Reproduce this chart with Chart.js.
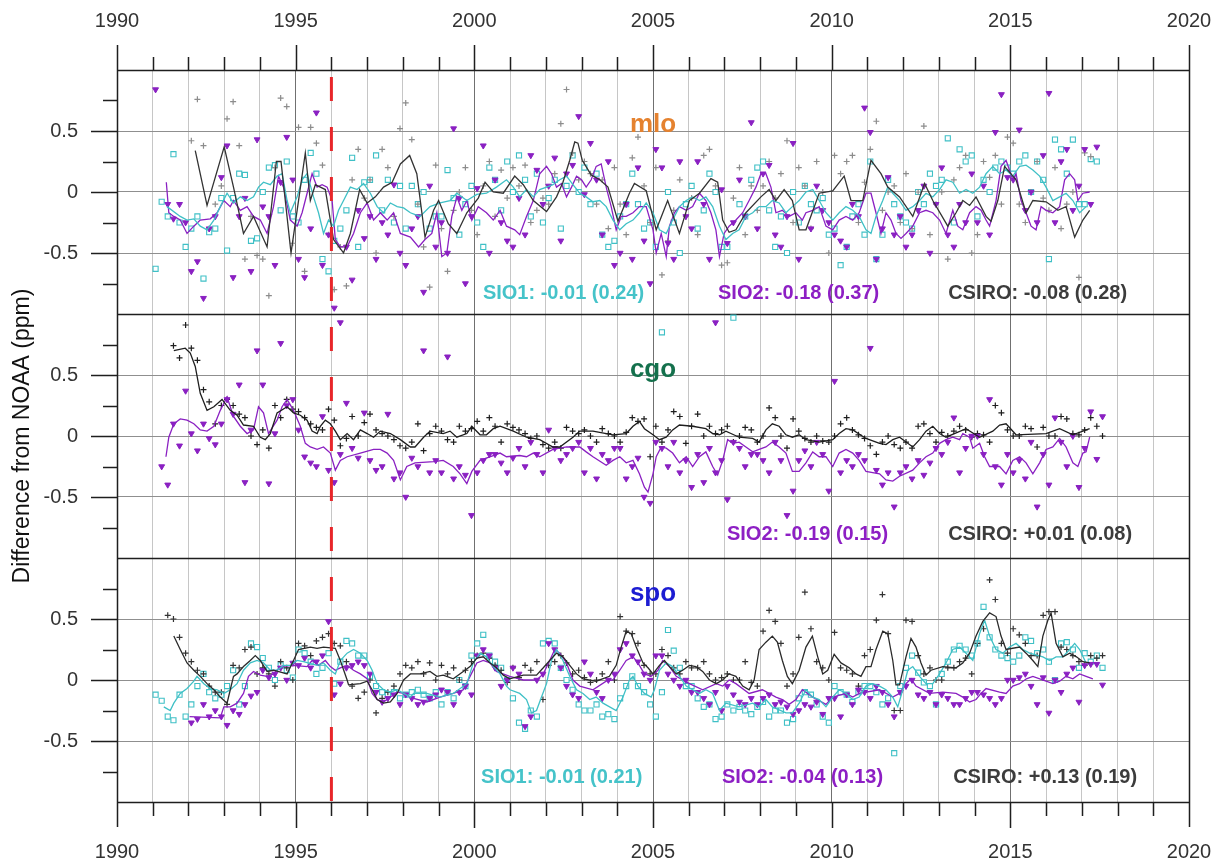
<!DOCTYPE html>
<html>
<head>
<meta charset="utf-8">
<script src="https://cdn.jsdelivr.net/npm/chart.js@4.4.1/dist/chart.umd.min.js"></script>
<style>
  html, body { margin: 0; padding: 0; background: #fff; }
  #wrap { width: 1226px; height: 868px; }
</style>
</head>
<body>
<div id="wrap"><canvas id="myChart" width="1226" height="868"></canvas></div>
<script>
var FONT = "'Liberation Sans', Arial, Helvetica, sans-serif";

// x positions of the (roughly bi-monthly) scatter samples
var scatterYears = [
  1991.08,1991.25,1991.42,1991.58,1991.75,1991.92,
  1992.08,1992.25,1992.42,1992.58,1992.75,1992.92,
  1993.08,1993.25,1993.42,1993.58,1993.75,1993.92,
  1994.08,1994.25,1994.42,1994.58,1994.75,1994.92,
  1995.08,1995.25,1995.42,1995.58,1995.75,1995.92,
  1996.08,1996.25,1996.42,1996.58,1996.75,1996.92,
  1997.08,1997.25,1997.42,1997.58,1997.75,1997.92,
  1998.08,1998.25,1998.42,1998.58,1998.75,1998.92,
  1999.08,1999.25,1999.42,1999.58,1999.75,1999.92,
  2000.08,2000.25,2000.42,2000.58,2000.75,2000.92,
  2001.08,2001.25,2001.42,2001.58,2001.75,2001.92,
  2002.08,2002.25,2002.42,2002.58,2002.75,2002.92,
  2003.08,2003.25,2003.42,2003.58,2003.75,2003.92,
  2004.08,2004.25,2004.42,2004.58,2004.75,2004.92,
  2005.08,2005.25,2005.42,2005.58,2005.75,2005.92,
  2006.08,2006.25,2006.42,2006.58,2006.75,2006.92,
  2007.08,2007.25,2007.42,2007.58,2007.75,2007.92,
  2008.08,2008.25,2008.42,2008.58,2008.75,2008.92,
  2009.08,2009.25,2009.42,2009.58,2009.75,2009.92,
  2010.08,2010.25,2010.42,2010.58,2010.75,2010.92,
  2011.08,2011.25,2011.42,2011.58,2011.75,2011.92,
  2012.08,2012.25,2012.42,2012.58,2012.75,2012.92,
  2013.08,2013.25,2013.42,2013.58,2013.75,2013.92,
  2014.08,2014.25,2014.42,2014.58,2014.75,2014.92,
  2015.08,2015.25,2015.42,2015.58,2015.75,2015.92,
  2016.08,2016.25,2016.42,2016.58,2016.75,2016.92,
  2017.08,2017.25,2017.42,2017.58,2017.75,2017.92
];

// ---- mlo ----
var mloSio1 = [
  -0.63,-0.08,-0.2,0.31,-0.25,-0.45,
  -0.3,-0.2,-0.71,-0.33,-0.3,-0.05,
  -0.48,-0.05,0.15,0.14,-0.4,-0.38,
  0.0,0.2,0.22,-0.15,0.25,-0.2,
  -0.25,0.1,0.32,0.15,-0.55,-0.65,
  -0.4,-0.3,-0.15,0.28,-0.45,0.08,
  0.1,0.3,-0.15,0.1,-0.25,0.05,
  -0.3,0.05,-0.1,0.0,-0.3,-0.2,
  -0.2,0.18,-0.05,-0.35,-0.1,0.05,
  -0.25,-0.45,0.2,0.1,-0.15,0.25,
  0.0,0.3,0.1,-0.2,0.15,-0.25,
  -0.05,0.1,-0.3,0.05,0.3,0.0,
  0.2,-0.1,0.15,-0.35,-0.45,-0.4,
  -0.2,-0.1,0.15,-0.1,-0.3,-0.25,
  -0.45,-1.15,0.0,-0.25,-0.5,-0.1,
  0.05,-0.3,-0.15,0.15,0.0,-0.45,
  -0.45,-1.03,-0.1,-0.2,0.1,0.2,
  0.25,-0.15,-0.45,-0.2,-0.5,0.0,
  -0.25,0.05,-0.1,-0.15,-0.05,-0.35,
  -0.3,-0.6,-0.45,-0.2,-0.1,-0.35,
  0.25,-0.55,-0.35,0.1,-0.1,-0.2,
  -0.25,-0.3,0.0,-0.1,0.15,0.05,
  0.1,0.44,-0.25,0.35,0.25,0.3,
  -0.2,0.1,0.0,0.2,0.25,0.2,
  0.15,0.25,0.3,0.0,0.25,0.1,
  -0.55,0.43,0.35,0.15,0.43,-0.1,
  -0.1,0.27,0.25,null,null,null
];
var mloSio2 = [
  0.84,null,-0.1,-0.22,-0.1,-0.25,
  -0.65,-0.57,-0.87,-0.3,-0.2,0.12,
  0.38,-0.7,-0.2,-0.05,-0.65,0.43,
  -0.12,-0.2,-0.6,0.08,0.45,0.1,
  -0.55,-0.7,-0.3,0.65,-0.6,-0.35,
  -0.95,-1.07,-0.45,-0.72,-0.15,-0.38,
  -0.2,-0.55,-0.25,-0.35,0.06,-0.5,
  -0.6,-0.3,-0.2,-0.82,0.05,-0.45,
  -0.25,-0.5,0.52,-0.05,-0.75,-0.2,
  0.03,0.38,-0.5,0.1,-0.25,-0.4,
  -0.45,-0.05,-0.35,0.3,0.18,-0.1,
  0.05,0.28,-0.4,0.15,0.22,0.62,
  -0.02,0.4,0.1,-0.35,0.25,-0.6,
  -0.5,-0.1,-0.55,0.2,-0.4,-0.75,
  0.35,0.2,-0.42,-0.55,0.25,-0.2,
  -0.3,0.25,-0.1,-0.55,-1.07,0.02,
  -0.42,-0.25,0.1,-0.2,0.57,-0.3,
  0.15,0.22,-0.35,-0.45,-0.2,0.4,
  -0.55,1.41,-0.3,0.05,-0.15,-0.25,
  -0.35,-0.4,-0.45,-0.1,-0.2,0.69,
  0.49,-0.55,-0.3,0.12,-0.35,-0.2,
  -0.45,-0.35,-0.15,0.05,-0.5,-0.1,
  0.2,-0.35,-0.45,-0.1,-0.25,0.15,
  -0.25,0.05,-0.35,0.49,0.8,0.12,
  0.1,0.51,-0.15,0.0,-0.25,0.3,
  0.81,-0.25,0.25,0.35,-0.15,0.05,
  0.35,-0.1,0.37,null,null,null
];
var mloCsiro = [
  null,null,null,null,null,null,
  0.42,0.76,0.38,-0.3,-0.1,0.05,
  0.6,0.74,0.38,-0.55,-0.2,-0.52,
  -0.55,-0.85,0.2,0.77,0.7,-0.42,
  0.53,-0.65,0.53,0.4,0.22,-0.35,
  -0.8,-0.45,-0.77,0.1,0.35,-0.05,
  0.1,-0.5,0.35,0.2,-0.2,0.52,
  0.73,0.43,-0.1,-0.45,-0.78,0.22,
  -0.3,-0.65,-0.15,0.0,0.2,-0.15,
  -0.35,0.05,0.25,-0.2,0.18,-0.05,
  0.2,0.05,0.22,-0.25,-0.15,-0.05,
  -0.1,0.15,0.56,0.84,0.32,0.1,
  0.25,0.15,-0.1,0.1,-0.3,0.2,
  -0.1,-0.35,0.28,0.45,0.05,-0.25,
  0.2,-0.68,-0.4,-0.15,0.1,-0.2,
  -0.05,-0.35,0.3,0.35,0.05,-0.6,
  -0.58,-0.05,0.2,-0.35,0.05,-0.15,
  0.05,0.25,-0.05,0.15,0.42,-0.25,
  0.2,0.05,-0.3,0.25,0.0,-0.5,
  0.3,0.15,0.25,0.3,-0.25,0.08,
  0.35,0.58,-0.15,0.0,0.05,-0.25,
  0.15,-0.3,0.0,0.54,-0.35,-0.1,
  0.0,-0.55,0.1,0.2,0.3,-0.5,
  -0.35,0.25,0.12,0.3,-0.1,0.45,
  0.4,-0.1,-0.25,0.0,0.25,-0.05,
  -0.15,0.2,-0.3,-0.1,0.0,-0.7,
  0.32,0.29,null,null,null,null
];
var mloSio1Line = [[1991.4,-0.12],[1991.77,-0.2],[1991.96,-0.23],[1992.15,-0.22],[1992.33,-0.28],[1992.52,-0.31],[1992.71,-0.23],[1992.89,-0.12],[1993.08,-0.01],[1993.26,-0.09],[1993.45,-0.04],[1993.64,-0.07],[1993.82,-0.04],[1993.96,0.04],[1994.1,0.08],[1994.29,0.06],[1994.48,0.13],[1994.62,0.15],[1994.76,-0.07],[1994.85,-0.17],[1995.04,-0.04],[1995.18,0.1],[1995.32,0.15],[1995.5,-0.04],[1995.64,-0.17],[1995.78,-0.34],[1995.92,-0.23],[1996.06,-0.28],[1996.2,-0.15],[1996.34,-0.07],[1996.53,0.04],[1996.72,0.02],[1996.9,0.07],[1997.09,-0.01],[1997.28,-0.12],[1997.46,-0.17],[1997.65,-0.09],[1997.84,-0.12],[1998.02,-0.13],[1998.21,-0.17],[1998.48,-0.2],[1998.76,-0.12],[1999.04,-0.09],[1999.32,-0.07],[1999.51,-0.01],[1999.79,-0.07],[2000.07,-0.02],[2000.34,-0.01],[2000.62,0.04],[2000.9,0.1],[2001.09,0.04],[2001.27,-0.04],[2001.46,0.02],[2001.65,-0.04],[2001.83,0.02],[2002.02,0.04],[2002.2,0.06],[2002.39,0.1],[2002.58,0.13],[2002.76,0.06],[2002.95,-0.01],[2003.13,-0.04],[2003.32,-0.08],[2003.51,-0.07],[2003.69,-0.12],[2003.88,-0.23],[2004.07,-0.31],[2004.25,-0.26],[2004.44,-0.23],[2004.62,-0.17],[2004.81,-0.09],[2005.0,-0.17],[2005.18,-0.31],[2005.37,-0.34],[2005.55,-0.23],[2005.74,-0.12],[2005.93,-0.07],[2006.11,-0.04],[2006.3,-0.07],[2006.48,-0.04],[2006.67,-0.12],[2006.86,-0.28],[2007.04,-0.39],[2007.23,-0.34],[2007.41,-0.31],[2007.6,-0.2],[2007.79,-0.17],[2007.97,-0.12],[2008.16,-0.12],[2008.34,-0.07],[2008.53,-0.09],[2008.72,-0.17],[2008.9,-0.12],[2009.09,-0.07],[2009.28,0.0],[2009.47,0.02],[2009.65,-0.07],[2009.84,-0.17],[2010.03,-0.23],[2010.21,-0.17],[2010.4,-0.12],[2010.59,-0.15],[2010.77,-0.2],[2010.96,-0.31],[2011.1,-0.34],[2011.24,-0.2],[2011.43,-0.07],[2011.57,0.04],[2011.71,-0.01],[2011.9,-0.07],[2012.08,-0.15],[2012.27,-0.12],[2012.46,-0.07],[2012.64,-0.01],[2012.83,-0.04],[2013.02,0.02],[2013.2,0.1],[2013.39,0.08],[2013.58,-0.01],[2013.76,0.02],[2013.95,-0.01],[2014.14,0.04],[2014.32,0.15],[2014.51,0.21],[2014.7,0.15],[2014.88,0.18],[2015.07,0.13],[2015.26,0.21],[2015.44,0.22],[2015.63,0.18],[2015.82,0.13],[2016.0,0.04],[2016.19,-0.07],[2016.38,-0.04],[2016.56,-0.01],[2016.75,-0.07],[2016.94,-0.17],[2017.12,-0.12]];
var mloSio2Line = [[1991.38,0.08],[1991.45,-0.17],[1991.59,-0.2],[1991.77,-0.23],[1991.96,-0.34],[1992.15,-0.28],[1992.33,-0.23],[1992.61,-0.22],[1992.8,-0.17],[1992.99,-0.07],[1993.17,-0.12],[1993.26,-0.07],[1993.45,-0.15],[1993.64,-0.12],[1993.82,-0.2],[1994.01,-0.23],[1994.2,-0.34],[1994.38,-0.12],[1994.52,0.13],[1994.66,0.04],[1994.85,-0.23],[1995.04,-0.28],[1995.18,-0.17],[1995.32,-0.01],[1995.46,0.15],[1995.6,0.04],[1995.74,0.06],[1995.88,0.04],[1996.02,-0.07],[1996.11,-0.39],[1996.25,-0.45],[1996.44,-0.45],[1996.62,-0.34],[1996.81,-0.17],[1997.0,-0.09],[1997.18,-0.23],[1997.37,-0.17],[1997.56,-0.23],[1997.74,-0.17],[1997.93,-0.34],[1998.21,-0.37],[1998.44,-0.45],[1998.62,-0.39],[1998.81,-0.34],[1998.95,-0.17],[1999.09,-0.53],[1999.23,-0.5],[1999.37,-0.2],[1999.51,-0.04],[1999.65,-0.15],[1999.79,-0.07],[1999.93,-0.23],[2000.11,-0.12],[2000.34,-0.17],[2000.53,-0.23],[2000.72,-0.15],[2000.9,-0.28],[2001.13,-0.31],[2001.27,-0.35],[2001.46,-0.2],[2001.65,-0.07],[2001.83,0.15],[2002.02,0.21],[2002.16,0.15],[2002.3,0.04],[2002.44,0.07],[2002.58,-0.04],[2002.72,0.04],[2002.86,0.13],[2003.0,0.1],[2003.13,0.04],[2003.27,0.1],[2003.41,0.21],[2003.55,0.23],[2003.69,0.04],[2003.83,-0.12],[2003.97,-0.31],[2004.11,-0.2],[2004.25,-0.2],[2004.44,-0.17],[2004.62,-0.12],[2004.81,-0.12],[2005.0,-0.31],[2005.09,-0.5],[2005.23,-0.34],[2005.37,-0.53],[2005.46,-0.28],[2005.6,-0.17],[2005.74,-0.12],[2005.93,-0.15],[2006.11,-0.12],[2006.3,-0.01],[2006.48,-0.07],[2006.62,-0.17],[2006.76,-0.31],[2006.86,-0.53],[2006.99,-0.34],[2007.13,-0.28],[2007.32,-0.23],[2007.51,-0.17],[2007.69,-0.07],[2007.88,0.04],[2008.02,0.15],[2008.16,0.15],[2008.3,0.04],[2008.44,-0.17],[2008.62,-0.15],[2008.81,-0.2],[2009.0,-0.17],[2009.18,-0.23],[2009.28,-0.17],[2009.47,-0.15],[2009.65,-0.12],[2009.84,-0.28],[2010.03,-0.31],[2010.21,-0.23],[2010.4,-0.2],[2010.59,-0.23],[2010.77,-0.17],[2010.96,-0.01],[2011.1,-0.01],[2011.24,-0.17],[2011.38,-0.34],[2011.52,-0.17],[2011.66,-0.23],[2011.8,-0.34],[2011.94,-0.38],[2012.08,-0.34],[2012.27,-0.28],[2012.46,-0.17],[2012.64,-0.15],[2012.83,-0.17],[2013.02,-0.23],[2013.2,-0.34],[2013.39,-0.15],[2013.53,-0.28],[2013.67,-0.31],[2013.86,-0.17],[2014.04,-0.12],[2014.18,-0.15],[2014.32,-0.23],[2014.42,-0.28],[2014.6,-0.07],[2014.74,0.21],[2014.88,0.26],[2015.07,0.1],[2015.16,0.15],[2015.3,-0.07],[2015.44,-0.17],[2015.58,-0.28],[2015.72,-0.31],[2015.86,-0.12],[2016.0,-0.15],[2016.19,-0.17],[2016.38,-0.12],[2016.52,0.1],[2016.66,0.15],[2016.8,0.1],[2016.89,-0.07],[2017.03,-0.01],[2017.22,0.0]];
var mloCsiroLine = [[1992.19,0.34],[1992.52,-0.11],[1993.0,0.37],[1993.26,0.04],[1993.54,-0.34],[1993.82,-0.2],[1994.2,-0.45],[1994.46,0.25],[1994.59,0.25],[1994.87,-0.5],[1995.08,-0.07],[1995.27,0.32],[1995.41,-0.07],[1995.55,0.06],[1995.83,0.02],[1996.06,-0.39],[1996.34,-0.5],[1996.53,-0.34],[1996.79,0.02],[1997.0,-0.09],[1997.23,-0.04],[1997.46,0.04],[1997.7,0.08],[1997.93,0.23],[1998.19,0.3],[1998.39,0.15],[1998.62,-0.37],[1998.86,-0.15],[1999.0,-0.07],[1999.27,-0.26],[1999.51,-0.34],[1999.79,-0.17],[2000.11,-0.05],[2000.3,0.08],[2000.53,0.0],[2000.81,-0.01],[2001.13,0.13],[2001.37,0.06],[2001.65,-0.07],[2002.02,-0.16],[2002.3,-0.04],[2002.48,0.08],[2002.67,0.26],[2002.81,0.41],[2002.9,0.4],[2003.02,0.26],[2003.27,0.14],[2003.51,0.1],[2003.74,0.04],[2004.02,-0.24],[2004.34,-0.01],[2004.48,0.07],[2004.81,0.01],[2005.09,-0.31],[2005.41,-0.07],[2005.74,-0.34],[2006.02,-0.07],[2006.3,-0.01],[2006.62,0.11],[2006.81,0.08],[2006.95,-0.23],[2007.13,-0.33],[2007.32,-0.31],[2007.6,-0.17],[2008.02,-0.04],[2008.25,0.02],[2008.44,-0.07],[2008.67,0.02],[2008.9,-0.07],[2009.09,-0.31],[2009.28,-0.31],[2009.65,-0.01],[2010.03,0.01],[2010.35,0.13],[2010.54,-0.07],[2010.87,-0.07],[2011.1,0.26],[2011.38,0.15],[2011.57,0.04],[2011.9,-0.04],[2012.27,-0.2],[2012.6,0.07],[2012.83,-0.07],[2013.25,-0.28],[2013.48,-0.17],[2013.67,-0.07],[2013.86,-0.11],[2014.04,-0.04],[2014.32,-0.2],[2014.46,-0.24],[2014.65,-0.07],[2014.84,0.21],[2015.16,0.1],[2015.44,-0.17],[2015.63,-0.07],[2016.0,-0.08],[2016.33,-0.15],[2016.56,-0.12],[2016.8,-0.37],[2017.03,-0.23],[2017.22,-0.15]];

// ---- cgo ----
var cgoSio2 = [
  null,-0.25,-0.4,0.1,-0.08,0.37,
  0.02,-0.12,0.1,-0.02,-0.07,0.1,
  0.3,0.18,0.42,-0.38,0.05,0.7,
  0.42,-0.39,0.02,0.76,0.25,0.3,
  0.05,-0.17,-0.22,-0.25,0.16,-0.28,
  -0.38,-0.15,0.27,-0.1,-0.18,0.19,
  -0.2,-0.28,-0.25,0.18,-0.35,-0.3,
  -0.5,-0.18,-0.25,0.7,-0.3,-0.2,
  -0.3,0.65,-0.35,-0.25,-0.32,-0.65,
  -0.3,-0.2,-0.15,-0.15,-0.22,-0.3,
  -0.18,-0.1,-0.25,-0.05,-0.15,-0.3,
  0.05,-0.1,-0.2,-0.15,-0.1,-0.05,
  -0.3,-0.1,-0.35,-0.15,-0.2,-0.1,
  -0.1,-0.35,-0.25,-0.18,-0.5,-0.55,
  -0.05,-0.1,-0.25,-0.05,-0.3,-0.2,
  -0.42,-0.15,-0.38,-0.1,-0.3,-0.2,
  -0.52,-0.05,-0.1,-0.25,-0.15,-0.15,
  -0.2,-0.3,-0.05,-0.2,-0.65,-0.45,
  -0.2,-0.12,-0.25,-0.05,-0.15,-0.45,
  0.45,-0.3,-0.2,-0.25,-0.15,-0.2,
  0.72,-0.28,-0.4,-0.3,-0.58,-0.3,
  -0.25,-0.35,-0.2,-0.32,-0.22,-0.1,
  -0.15,-0.05,0.15,-0.3,-0.1,0.0,
  0.0,-0.15,0.3,-0.25,-0.4,-0.15,
  -0.3,-0.2,-0.35,-0.05,-0.58,-0.15,
  -0.4,0.15,-0.05,-0.25,0.0,-0.42,
  -0.1,0.2,-0.19,0.16,null,null
];
var cgoCsiro = [
  null,null,null,0.74,0.64,0.91,
  0.72,0.62,0.38,0.28,0.1,0.25,
  0.3,0.25,0.18,0.15,0.0,-0.07,
  0.05,-0.1,0.25,0.15,0.3,0.22,
  0.2,0.15,0.1,0.07,0.05,0.22,
  0.13,-0.08,-0.02,0.16,0.0,0.11,
  0.18,0.05,0.02,0.0,-0.03,-0.08,
  -0.1,-0.05,0.1,-0.12,0.02,0.08,
  0.04,-0.03,-0.05,0.08,0.04,0.06,
  0.12,0.04,0.15,0.08,-0.05,0.1,
  0.07,0.05,0.02,-0.02,0.0,-0.07,
  -0.1,-0.05,-0.1,0.07,0.04,0.02,
  0.05,0.0,-0.05,0.06,0.02,0.0,
  -0.05,0.03,0.15,0.12,0.14,-0.17,
  0.08,-0.05,0.05,0.2,0.16,-0.06,
  0.08,0.18,0.0,0.08,0.02,0.05,
  0.08,-0.05,0.0,0.07,0.05,-0.05,
  0.0,0.23,0.15,0.0,-0.1,0.14,
  0.04,-0.02,-0.05,0.0,-0.04,-0.05,
  0.0,0.1,0.15,0.05,0.01,-0.02,
  -0.08,-0.15,-0.05,0.0,-0.07,-0.1,
  -0.05,-0.1,0.08,0.1,0.02,-0.05,
  0.03,0.0,0.04,0.08,0.05,-0.01,
  0.02,0.01,-0.05,0.25,0.19,0.05,
  0.0,0.0,0.08,0.06,-0.09,0.07,
  0.0,0.0,0.16,0.14,0.02,0.01,
  0.05,0.15,0.08,0.0,null,null
];
var cgoSio2Line = [[1991.37,-0.17],[1991.45,-0.01],[1991.59,0.1],[1991.77,0.14],[1991.96,0.13],[1992.15,0.1],[1992.33,0.05],[1992.52,0.04],[1992.71,0.08],[1992.89,0.21],[1993.08,0.32],[1993.26,0.16],[1993.45,0.08],[1993.64,0.02],[1993.82,0.05],[1993.96,0.24],[1994.1,0.19],[1994.24,0.02],[1994.48,0.13],[1994.62,0.24],[1994.76,0.3],[1994.94,0.21],[1995.13,0.08],[1995.27,-0.06],[1995.41,-0.09],[1995.6,-0.11],[1995.78,-0.09],[1995.97,-0.14],[1996.11,-0.28],[1996.25,-0.2],[1996.44,-0.17],[1996.81,-0.14],[1997.18,-0.11],[1997.37,-0.11],[1997.56,-0.14],[1997.74,-0.2],[1997.93,-0.36],[1998.11,-0.25],[1998.34,-0.22],[1998.86,-0.21],[1999.13,-0.2],[1999.41,-0.25],[1999.6,-0.31],[1999.79,-0.39],[1999.93,-0.29],[2000.16,-0.2],[2000.53,-0.16],[2000.72,-0.14],[2000.9,-0.17],[2001.27,-0.16],[2001.46,-0.17],[2001.65,-0.14],[2001.83,-0.17],[2002.2,-0.11],[2002.58,-0.09],[2002.95,-0.09],[2003.13,-0.13],[2003.32,-0.17],[2003.69,-0.24],[2003.88,-0.2],[2004.07,-0.17],[2004.25,-0.22],[2004.44,-0.2],[2004.62,-0.31],[2004.76,-0.42],[2004.86,-0.46],[2005.0,-0.31],[2005.09,-0.17],[2005.23,-0.09],[2005.37,-0.1],[2005.55,-0.14],[2005.74,-0.22],[2005.93,-0.17],[2006.11,-0.25],[2006.3,-0.17],[2006.48,-0.13],[2006.67,-0.25],[2006.81,-0.32],[2006.95,-0.2],[2007.09,-0.03],[2007.23,-0.06],[2007.41,-0.05],[2007.6,-0.09],[2007.79,-0.13],[2007.97,-0.11],[2008.16,-0.09],[2008.34,-0.05],[2008.53,-0.09],[2008.72,-0.14],[2008.9,-0.29],[2009.09,-0.29],[2009.28,-0.22],[2009.47,-0.13],[2009.65,-0.17],[2009.84,-0.17],[2010.03,-0.25],[2010.21,-0.14],[2010.4,-0.11],[2010.59,-0.14],[2010.77,-0.2],[2010.96,-0.29],[2011.34,-0.31],[2011.52,-0.36],[2011.71,-0.37],[2011.9,-0.33],[2012.27,-0.28],[2012.46,-0.22],[2012.64,-0.17],[2012.83,-0.14],[2013.02,-0.06],[2013.2,-0.03],[2013.39,-0.01],[2013.58,-0.03],[2013.67,0.02],[2013.86,-0.01],[2013.95,-0.1],[2014.14,-0.06],[2014.28,-0.17],[2014.42,-0.25],[2014.7,-0.25],[2014.88,-0.31],[2015.07,-0.2],[2015.26,-0.17],[2015.44,-0.22],[2015.63,-0.31],[2015.82,-0.22],[2016.0,-0.11],[2016.19,-0.09],[2016.38,-0.02],[2016.56,-0.09],[2016.75,-0.22],[2016.89,-0.25],[2017.03,-0.14],[2017.12,-0.13],[2017.22,-0.01]];
var cgoCsiroLine = [[1991.59,0.7],[1991.91,0.72],[1992.05,0.68],[1992.19,0.57],[1992.33,0.35],[1992.52,0.21],[1992.71,0.24],[1992.94,0.3],[1993.17,0.21],[1993.36,0.17],[1993.54,0.09],[1993.82,0.08],[1994.01,-0.01],[1994.15,-0.03],[1994.29,0.02],[1994.48,0.19],[1994.76,0.24],[1994.94,0.19],[1995.13,0.17],[1995.32,0.13],[1995.46,0.04],[1995.6,0.02],[1995.69,0.08],[1995.83,0.13],[1995.97,0.1],[1996.11,0.04],[1996.25,-0.03],[1996.44,0.02],[1996.62,-0.03],[1996.81,0.05],[1997.0,0.02],[1997.18,-0.01],[1997.37,0.04],[1997.65,0.02],[1997.93,-0.03],[1998.21,-0.09],[1998.34,-0.09],[1998.58,-0.01],[1998.76,0.04],[1999.13,0.02],[1999.32,0.04],[1999.51,-0.01],[1999.79,0.02],[1999.93,0.08],[2000.16,0.01],[2000.34,0.01],[2000.53,0.06],[2000.72,0.08],[2001.09,0.04],[2001.46,-0.01],[2001.83,-0.03],[2002.2,-0.09],[2002.39,-0.09],[2002.76,-0.01],[2002.95,0.04],[2003.32,0.04],[2003.88,0.01],[2004.25,0.02],[2004.44,0.08],[2004.62,0.12],[2004.76,0.06],[2005.0,0.01],[2005.18,-0.03],[2005.37,-0.01],[2005.55,0.05],[2005.74,0.09],[2006.11,0.08],[2006.48,0.06],[2006.67,0.02],[2006.86,0.01],[2007.04,0.04],[2007.41,-0.01],[2007.79,-0.02],[2007.97,-0.05],[2008.16,0.05],[2008.34,0.1],[2008.53,0.08],[2008.72,0.01],[2008.9,-0.01],[2009.09,0.01],[2009.28,-0.03],[2009.65,-0.05],[2010.03,-0.03],[2010.21,0.02],[2010.4,0.06],[2010.59,0.05],[2010.96,-0.02],[2011.34,-0.06],[2011.52,-0.07],[2011.71,-0.03],[2011.9,-0.01],[2012.27,-0.09],[2012.46,-0.03],[2012.64,0.04],[2012.83,0.08],[2013.02,0.02],[2013.2,-0.01],[2013.76,0.06],[2014.14,-0.01],[2014.51,0.04],[2014.7,0.09],[2014.88,0.1],[2015.16,0.01],[2016.0,0.02],[2016.38,0.06],[2016.75,0.01],[2017.22,0.06]];

// ---- spo ----
var spoSio1 = [
  -0.12,-0.17,-0.3,-0.33,-0.12,-0.3,
  -0.2,-0.05,0.05,-0.1,-0.15,-0.12,
  -0.05,0.08,-0.2,-0.05,0.3,0.27,
  0.18,0.1,0.0,0.12,0.08,0.02,
  0.25,0.22,0.15,0.05,0.1,0.22,
  -0.03,0.15,0.32,0.3,0.2,0.2,
  0.03,-0.05,-0.1,-0.12,-0.1,-0.15,
  -0.12,-0.1,-0.08,-0.12,-0.15,-0.1,
  -0.2,-0.1,-0.15,0.0,-0.05,0.2,
  0.3,0.37,0.2,0.15,0.1,0.0,
  -0.15,-0.35,-0.4,-0.25,-0.3,0.3,
  0.32,0.3,0.1,0.0,-0.08,-0.2,
  -0.25,-0.25,-0.2,-0.3,-0.28,-0.32,
  -0.15,-0.05,0.03,-0.05,-0.1,-0.2,
  -0.3,-0.1,0.41,0.24,0.1,-0.05,
  -0.05,-0.15,-0.22,-0.2,-0.32,-0.3,
  -0.2,-0.25,-0.22,-0.25,-0.28,-0.22,
  -0.18,-0.3,-0.25,-0.25,-0.35,-0.32,
  -0.15,-0.1,-0.12,-0.2,-0.3,-0.35,
  -0.05,-0.1,-0.12,-0.18,-0.1,-0.05,
  -0.05,-0.1,-0.2,-0.15,-0.6,-0.05,
  0.1,0.2,0.06,-0.02,-0.05,-0.2,
  0.05,0.15,0.25,0.28,0.25,0.2,
  0.3,0.6,0.35,0.25,0.2,0.18,
  0.15,0.2,0.35,0.32,0.22,0.25,
  0.15,0.0,0.3,0.31,0.25,0.1,
  0.22,0.15,0.2,0.1,null,null
];
var spoSio2 = [
  null,null,null,null,null,null,
  -0.35,-0.32,-0.2,-0.3,-0.25,-0.3,
  -0.37,-0.25,-0.28,-0.2,-0.13,-0.1,
  0.08,0.02,0.05,0.1,0.0,0.14,
  0.12,0.18,0.1,0.15,0.2,0.48,
  -0.12,-0.03,0.1,0.12,0.15,0.12,
  0.05,-0.1,-0.18,-0.15,-0.12,-0.2,
  -0.12,-0.15,-0.2,-0.18,-0.15,-0.12,
  -0.08,-0.1,-0.2,-0.1,-0.05,-0.12,
  0.2,0.25,0.2,0.1,-0.05,0.0,
  0.1,0.05,-0.38,-0.3,0.0,0.05,
  0.3,0.25,0.1,-0.05,-0.12,-0.15,
  0.15,0.05,-0.1,-0.15,0.0,0.05,
  0.25,0.3,0.2,0.15,0.05,0.0,
  0.2,0.2,0.05,0.0,-0.05,0.0,
  -0.1,-0.1,-0.15,-0.2,-0.1,-0.25,
  -0.05,-0.12,-0.18,-0.2,-0.15,-0.2,
  -0.15,-0.12,-0.2,-0.18,-0.22,-0.28,
  -0.25,-0.2,-0.22,-0.18,-0.28,-0.15,
  -0.15,-0.3,-0.12,-0.2,-0.08,-0.1,
  -0.15,-0.05,-0.1,-0.2,-0.3,-0.1,
  -0.05,0.0,-0.12,-0.15,-0.1,-0.2,
  -0.12,-0.15,-0.2,-0.2,-0.15,-0.1,
  -0.1,-0.12,-0.15,-0.2,-0.15,0.0,
  0.0,0.02,0.05,-0.05,-0.2,0.02,
  -0.27,0.0,-0.1,0.05,0.1,-0.18,
  0.12,0.13,0.13,-0.04,null,null
];
var spoCsiro = [
  null,null,0.53,0.5,0.35,0.22,
  0.15,0.08,0.05,-0.05,-0.1,-0.1,
  -0.2,0.12,0.1,0.25,0.27,0.05,
  0.1,0.05,-0.05,0.15,0.1,0.0,
  0.3,0.28,0.2,0.32,0.35,0.38,
  0.3,0.28,0.15,-0.05,-0.15,-0.1,
  0.0,-0.27,-0.15,-0.1,-0.05,0.05,
  0.12,0.1,0.15,0.05,0.14,0.0,
  0.12,0.05,0.1,0.0,0.08,0.15,
  0.2,0.22,0.18,0.12,0.08,-0.02,
  0.1,0.02,0.12,0.08,0.15,-0.16,
  0.12,0.15,0.2,0.14,0.05,0.08,
  0.02,-0.02,0.0,0.05,0.15,0.0,
  0.52,0.4,0.38,0.3,0.12,0.05,
  0.05,0.25,0.2,0.1,0.05,0.15,
  0.1,0.1,0.15,0.05,0.0,0.02,
  0.05,0.0,0.0,0.15,-0.02,-0.05,
  0.4,0.57,0.48,0.3,-0.05,0.05,
  0.35,0.72,0.42,0.15,0.1,0.0,
  0.39,0.1,0.08,0.05,-0.05,0.2,
  0.25,0.49,0.7,0.38,-0.25,-0.25,
  0.49,0.48,0.2,0.05,0.1,0.0,
  0.0,0.1,0.1,0.15,0.18,0.05,
  0.3,0.42,0.82,0.66,0.3,0.22,
  0.42,0.37,0.3,0.2,0.2,0.53,
  0.56,0.56,0.27,0.25,0.2,0.15,
  0.12,0.2,0.18,0.2,null,null
];
var spoSio1Line = [[1991.31,-0.22],[1991.49,-0.25],[1991.59,-0.19],[1991.77,-0.11],[1991.96,-0.07],[1992.15,-0.01],[1992.24,0.03],[1992.43,-0.03],[1992.61,-0.07],[1992.8,-0.08],[1992.99,-0.11],[1993.17,-0.08],[1993.36,-0.03],[1993.54,0.08],[1993.73,0.14],[1993.92,0.16],[1994.1,0.14],[1994.29,0.08],[1994.48,0.08],[1994.66,0.12],[1994.85,0.12],[1995.04,0.16],[1995.22,0.15],[1995.6,0.12],[1995.78,0.14],[1995.97,0.08],[1996.11,0.05],[1996.25,0.16],[1996.44,0.22],[1996.62,0.25],[1996.81,0.22],[1997.0,0.16],[1997.14,0.08],[1997.28,-0.03],[1997.46,-0.08],[1997.65,-0.1],[1997.84,-0.08],[1998.02,-0.11],[1998.21,-0.14],[1998.3,-0.11],[1998.67,-0.11],[1999.04,-0.14],[1999.41,-0.11],[1999.79,-0.03],[1999.97,0.14],[2000.16,0.22],[2000.34,0.19],[2000.53,0.11],[2000.72,0.05],[2000.9,-0.05],[2001.0,-0.08],[2001.27,-0.11],[2001.46,-0.16],[2001.6,-0.27],[2001.74,-0.25],[2001.88,-0.14],[2002.02,-0.03],[2002.16,0.16],[2002.3,0.25],[2002.48,0.16],[2002.67,0.03],[2002.86,-0.08],[2003.04,-0.11],[2003.23,-0.16],[2003.41,-0.14],[2003.6,-0.19],[2003.97,-0.25],[2004.16,-0.14],[2004.34,0.0],[2004.44,0.03],[2004.58,-0.05],[2004.76,-0.11],[2004.95,-0.14],[2005.04,-0.08],[2005.18,0.08],[2005.37,0.14],[2005.55,0.11],[2005.74,0.03],[2005.93,-0.05],[2006.11,-0.08],[2006.3,-0.11],[2006.48,-0.08],[2006.67,-0.11],[2006.86,-0.25],[2007.04,-0.19],[2007.41,-0.22],[2007.79,-0.19],[2007.97,-0.22],[2008.16,-0.16],[2008.34,-0.22],[2008.72,-0.27],[2008.9,-0.27],[2009.09,-0.19],[2009.28,-0.08],[2009.47,-0.14],[2009.65,-0.16],[2009.84,-0.22],[2010.03,-0.14],[2010.21,-0.08],[2010.4,-0.11],[2010.59,-0.16],[2010.77,-0.14],[2010.96,-0.05],[2011.15,-0.03],[2011.34,-0.05],[2011.52,-0.08],[2011.71,-0.14],[2011.85,-0.22],[2011.99,-0.08],[2012.13,0.08],[2012.27,0.11],[2012.46,0.03],[2012.64,-0.03],[2012.83,-0.03],[2013.02,0.05],[2013.2,0.14],[2013.39,0.25],[2013.58,0.27],[2013.76,0.22],[2013.95,0.16],[2014.14,0.38],[2014.28,0.49],[2014.42,0.36],[2014.6,0.25],[2014.79,0.22],[2014.98,0.27],[2015.16,0.3],[2015.35,0.25],[2015.54,0.22],[2015.91,0.19],[2016.1,0.16],[2016.28,0.19],[2016.47,0.19],[2016.66,0.25],[2016.8,0.3],[2016.94,0.25],[2017.12,0.14]];
var spoSio2Line = [[1992.03,-0.3],[1992.89,-0.31],[1992.99,-0.22],[1993.17,-0.22],[1993.36,-0.19],[1993.54,-0.11],[1993.68,0.03],[1993.82,0.07],[1994.01,0.04],[1994.2,0.03],[1994.38,0.05],[1994.57,0.11],[1994.94,0.12],[1995.32,0.11],[1995.46,0.16],[1995.64,0.12],[1995.83,0.16],[1995.97,0.11],[1996.11,0.08],[1996.25,0.1],[1996.44,0.12],[1996.62,0.08],[1996.81,0.05],[1997.0,0.01],[1997.14,-0.11],[1997.28,-0.16],[1997.46,-0.18],[1997.65,-0.14],[1997.84,-0.1],[1998.02,-0.11],[1998.21,-0.14],[1998.3,-0.15],[1998.67,-0.18],[1999.04,-0.14],[1999.41,-0.11],[1999.69,-0.08],[1999.88,0.03],[2000.07,0.14],[2000.25,0.16],[2000.44,0.14],[2000.62,0.07],[2000.99,0.03],[2001.37,0.0],[2001.74,0.0],[2001.93,0.05],[2002.11,0.16],[2002.25,0.25],[2002.39,0.22],[2002.58,0.14],[2002.76,0.0],[2002.95,-0.05],[2003.32,-0.08],[2003.69,-0.01],[2003.88,0.0],[2004.07,0.08],[2004.25,0.16],[2004.44,0.19],[2004.58,0.14],[2004.76,0.05],[2004.95,0.03],[2005.14,0.08],[2005.27,0.16],[2005.46,0.11],[2005.65,0.03],[2006.02,-0.03],[2006.39,-0.08],[2006.77,-0.03],[2006.95,-0.05],[2007.13,0.0],[2007.32,-0.03],[2007.69,-0.11],[2008.06,-0.08],[2008.44,-0.14],[2008.62,-0.16],[2008.81,-0.2],[2009.0,-0.16],[2009.18,-0.08],[2009.47,-0.14],[2009.84,-0.2],[2010.03,-0.14],[2010.4,-0.11],[2010.59,-0.14],[2010.77,-0.11],[2011.34,-0.08],[2011.71,-0.14],[2011.9,-0.11],[2012.08,-0.03],[2012.22,0.01],[2012.36,-0.05],[2012.74,-0.11],[2013.11,-0.1],[2013.48,-0.11],[2013.67,-0.14],[2013.86,-0.18],[2014.04,-0.16],[2014.18,-0.11],[2014.32,-0.07],[2014.7,-0.1],[2014.88,-0.11],[2015.07,-0.05],[2015.26,-0.03],[2015.45,0.01],[2015.63,0.03],[2016.0,-0.01],[2016.19,-0.03],[2016.38,-0.01],[2016.56,0.03],[2016.75,0.01],[2016.94,0.05],[2017.12,0.03],[2017.31,0.01]];
var spoCsiroLine = [[1991.59,0.36],[1991.77,0.25],[1991.96,0.14],[1992.15,0.08],[1992.33,0.03],[1992.52,-0.03],[1992.71,-0.08],[1992.89,-0.14],[1993.08,-0.19],[1993.17,-0.08],[1993.26,0.03],[1993.36,0.05],[1993.54,0.11],[1993.73,0.16],[1993.87,0.2],[1994.01,0.16],[1994.2,0.07],[1994.38,0.08],[1994.76,0.05],[1994.94,0.16],[1995.08,0.25],[1995.41,0.27],[1995.6,0.26],[1995.78,0.27],[1996.11,0.26],[1996.25,0.16],[1996.44,0.0],[1996.48,-0.04],[1996.81,-0.03],[1997.0,-0.01],[1997.14,-0.08],[1997.28,-0.16],[1997.46,-0.19],[1997.65,-0.18],[1997.84,-0.11],[1998.02,0.0],[1998.21,0.05],[1998.48,0.05],[1998.76,0.07],[1998.95,0.03],[1999.13,0.04],[1999.41,0.01],[1999.69,0.07],[1999.88,0.11],[2000.07,0.18],[2000.25,0.19],[2000.44,0.14],[2000.62,0.1],[2000.81,0.04],[2000.99,0.01],[2001.37,0.04],[2001.74,0.04],[2001.93,0.1],[2002.11,0.16],[2002.3,0.22],[2002.48,0.19],[2002.67,0.12],[2002.86,0.05],[2003.04,0.01],[2003.41,-0.01],[2003.78,0.03],[2003.97,0.12],[2004.11,0.27],[2004.25,0.4],[2004.39,0.38],[2004.53,0.27],[2004.72,0.14],[2004.86,0.1],[2005.0,0.05],[2005.18,0.12],[2005.32,0.16],[2005.46,0.11],[2005.65,0.05],[2005.83,0.08],[2006.02,0.12],[2006.2,0.11],[2006.39,0.07],[2006.58,0.0],[2006.77,-0.03],[2006.95,0.0],[2007.13,0.05],[2007.32,0.03],[2007.51,-0.05],[2007.69,-0.08],[2007.83,0.0],[2007.97,0.25],[2008.16,0.31],[2008.34,0.36],[2008.48,0.31],[2008.62,0.16],[2008.76,0.03],[2008.9,-0.03],[2009.09,0.08],[2009.28,0.27],[2009.46,0.36],[2009.61,0.19],[2009.75,0.05],[2009.89,0.08],[2010.07,0.21],[2010.26,0.14],[2010.49,0.1],[2010.68,0.05],[2010.82,0.03],[2010.96,0.11],[2011.1,0.11],[2011.24,0.25],[2011.43,0.4],[2011.57,0.38],[2011.71,0.16],[2011.8,-0.04],[2011.9,-0.04],[2012.08,0.19],[2012.22,0.34],[2012.36,0.27],[2012.5,0.14],[2012.64,0.04],[2012.78,0.08],[2013.11,0.11],[2013.48,0.1],[2013.67,0.14],[2013.86,0.22],[2014.04,0.36],[2014.23,0.48],[2014.42,0.55],[2014.6,0.52],[2014.74,0.36],[2014.88,0.25],[2015.26,0.27],[2015.44,0.22],[2015.63,0.16],[2015.77,0.11],[2015.91,0.36],[2016.05,0.49],[2016.14,0.55],[2016.28,0.3],[2016.47,0.19],[2016.66,0.22],[2016.85,0.19],[2017.03,0.15],[2017.22,0.14]];

// the three panels share one y scale, shifted by these offsets
var OFF_MLO = 2, OFF_CGO = 0, OFF_SPO = -2;
var CHANGE_YEAR = 1996;

var CYAN = '#3fc0c6', PURPLE = '#8a20c2', GRAY = '#8c8c8c', BLACK = '#1e1e1e';

function pts(vals, off) {
  var out = [];
  vals.forEach(function (v, i) {
    if (v !== null) out.push({ x: scatterYears[i], y: v + off });
  });
  return out;
}
function line(pairs, off) {
  return pairs.map(function (p) { return { x: p[0], y: p[1] + off }; });
}
function lineSet(data, color) {
  return { data: data, showLine: true, borderColor: color, borderWidth: 1.3, pointRadius: 0,
           pointHoverRadius: 0, fill: false, clip: false, order: 1 };
}
function squares(data) {
  return { data: data, showLine: false, pointStyle: 'rect', pointRadius: 3.6, borderWidth: 1.1,
           pointBorderColor: CYAN, pointBackgroundColor: '#fff', clip: false, order: 3 };
}
function triangles(data) {
  return { data: data, showLine: false, pointStyle: 'triangle', rotation: 180, pointRadius: 3.4,
           pointBorderColor: PURPLE, pointBackgroundColor: PURPLE, borderWidth: 1, clip: false, order: 2 };
}
function crosses(data, color) {
  return { data: data, showLine: false, pointStyle: 'cross', pointRadius: 3, borderWidth: 1.2,
           pointBorderColor: color, pointBackgroundColor: color, clip: false, order: 2 };
}

function localVal(v) {
  var off = v > 1 ? 2 : (v < -1 ? -2 : 0);
  return v - off;
}
function isBoundary(v) { return Math.abs(v) === 1 || Math.abs(v) === 3; }

var datasets = [
  lineSet(line(mloCsiroLine, OFF_MLO), '#333333'),
  lineSet(line(mloSio1Line, OFF_MLO), CYAN),
  lineSet(line(mloSio2Line, OFF_MLO), PURPLE),
  lineSet(line(cgoCsiroLine, OFF_CGO), BLACK),
  lineSet(line(cgoSio2Line, OFF_CGO), PURPLE),
  lineSet(line(spoCsiroLine, OFF_SPO), '#2a2a2a'),
  lineSet(line(spoSio1Line, OFF_SPO), CYAN),
  lineSet(line(spoSio2Line, OFF_SPO), PURPLE),
  squares(pts(mloSio1, OFF_MLO)),
  triangles(pts(mloSio2, OFF_MLO)),
  crosses(pts(mloCsiro, OFF_MLO), GRAY),
  triangles(pts(cgoSio2, OFF_CGO)),
  crosses(pts(cgoCsiro, OFF_CGO), BLACK),
  squares(pts(spoSio1, OFF_SPO)),
  triangles(pts(spoSio2, OFF_SPO)),
  crosses(pts(spoCsiro, OFF_SPO), '#333333')
];

var panelNames = [
  { text: 'mlo', color: '#e5822f', year: 2005, y: 0.55 + OFF_MLO },
  { text: 'cgo', color: '#14704c', year: 2005, y: 0.54 + OFF_CGO },
  { text: 'spo', color: '#1c1cd2', year: 2005, y: 0.71 + OFF_SPO }
];
var statLabels = [
  { text: 'SIO1: -0.01 (0.24)', color: '#45c3c9', year: 2000.24, y: -0.83 + OFF_MLO },
  { text: 'SIO2: -0.18 (0.37)', color: '#8d1fc4', year: 2006.82, y: -0.83 + OFF_MLO },
  { text: 'CSIRO: -0.08 (0.28)', color: '#3c3c3c', year: 2013.26, y: -0.83 + OFF_MLO },
  { text: 'SIO2: -0.19 (0.15)', color: '#8d1fc4', year: 2007.07, y: -0.81 + OFF_CGO },
  { text: 'CSIRO: +0.01 (0.08)', color: '#3c3c3c', year: 2013.26, y: -0.81 + OFF_CGO },
  { text: 'SIO1: -0.01 (0.21)', color: '#45c3c9', year: 2000.19, y: -0.80 + OFF_SPO },
  { text: 'SIO2: -0.04 (0.13)', color: '#8d1fc4', year: 2006.93, y: -0.80 + OFF_SPO },
  { text: 'CSIRO: +0.13 (0.19)', color: '#3c3c3c', year: 2013.40, y: -0.80 + OFF_SPO }
];

// panel outlines and tick marks of different lengths
var framePlugin = {
  id: 'frame',
  beforeDatasetsDraw: function (chart) {
    var ctx = chart.ctx, xs = chart.scales.x, ys = chart.scales.y, a = chart.chartArea;
    ctx.save();
    ctx.strokeStyle = BLACK;
    ctx.lineWidth = 1.5;
    [3, 1, -1, -3].forEach(function (v) {
      var y = Math.round(ys.getPixelForValue(v)) + 0.5;
      ctx.beginPath(); ctx.moveTo(a.left, y); ctx.lineTo(a.right, y); ctx.stroke();
    });
    for (var yr = 1990; yr <= 2020; yr++) {
      var x = Math.round(xs.getPixelForValue(yr)) + 0.5;
      var major = yr % 5 === 0;
      var len = major ? 25 : 13;
      ctx.beginPath();
      if (yr === 1990 || yr === 2020) {
        ctx.moveTo(x, a.top - 25); ctx.lineTo(x, a.bottom + 25);
      } else {
        ctx.moveTo(x, a.top - len); ctx.lineTo(x, a.top);
        ctx.moveTo(x, a.bottom); ctx.lineTo(x, a.bottom + len + 1);
      }
      ctx.stroke();
    }
    for (var v = -3; v <= 3; v += 0.25) {
      if (isBoundary(v)) continue;
      var y2 = Math.round(ys.getPixelForValue(v)) + 0.5;
      var l = localVal(v);
      var tl = (Math.abs(l * 2) % 1 === 0) ? 26 : 14;
      ctx.beginPath(); ctx.moveTo(a.left - tl, y2); ctx.lineTo(a.left, y2); ctx.stroke();
    }
    ctx.restore();
  },
  afterDatasetsDraw: function (chart) {
    var ctx = chart.ctx, xs = chart.scales.x, ys = chart.scales.y, a = chart.chartArea;
    ctx.save();
    var x = xs.getPixelForValue(CHANGE_YEAR);
    ctx.strokeStyle = '#e8262a';
    ctx.lineWidth = 3;
    ctx.setLineDash([24, 26]);
    ctx.beginPath(); ctx.moveTo(x, a.top + 7); ctx.lineTo(x, a.bottom); ctx.stroke();
    ctx.setLineDash([]);

    ctx.textBaseline = 'middle';
    ctx.textAlign = 'center';
    ctx.font = 'bold 26px ' + FONT;
    panelNames.forEach(function (p) {
      ctx.fillStyle = p.color;
      ctx.fillText(p.text, xs.getPixelForValue(p.year), ys.getPixelForValue(p.y));
    });
    ctx.textAlign = 'left';
    ctx.font = 'bold 20px ' + FONT;
    statLabels.forEach(function (s) {
      ctx.fillStyle = s.color;
      ctx.fillText(s.text, xs.getPixelForValue(s.year), ys.getPixelForValue(s.y));
    });
    ctx.restore();
  }
};

function fixX(h) {
  return function (s) { s.height = h; s.paddingLeft = 0; s.paddingRight = 0; };
}

var ctx = document.getElementById('myChart').getContext('2d');
var myChart = new Chart(ctx, {
  type: 'scatter',
  data: { datasets: datasets },
  options: {
    responsive: false,
    animation: false,
    events: [],
    layout: { padding: { left: 0, right: 37, top: 0, bottom: 0 } },
    plugins: { legend: { display: false }, tooltip: { enabled: false } },
    scales: {
      x: {
        type: 'linear', position: 'bottom', min: 1990, max: 2020,
        afterFit: fixX(66),
        border: { display: false },
        grid: {
          drawTicks: false,
          color: function (c) { return c.tick.value % 5 === 0 ? '#707070' : '#c6c6c6'; },
          lineWidth: 1
        },
        ticks: {
          stepSize: 1, autoSkip: false, maxRotation: 0, padding: 38, color: '#333',
          font: { family: FONT, size: 20 },
          callback: function (v) { return v % 5 === 0 ? String(v) : ''; }
        }
      },
      x2: {
        type: 'linear', position: 'top', min: 1990, max: 2020,
        afterFit: fixX(70),
        border: { display: false },
        grid: { display: false, drawTicks: false },
        ticks: {
          stepSize: 1, autoSkip: false, maxRotation: 0, padding: 37, color: '#333',
          font: { family: FONT, size: 20 },
          callback: function (v) { return v % 5 === 0 ? String(v) : ''; }
        }
      },
      y: {
        type: 'linear', min: -3, max: 3,
        afterFit: function (s) { s.width = 117; s.paddingTop = 0; s.paddingBottom = 0; },
        border: { display: false },
        grid: {
          drawTicks: false,
          color: function (c) {
            var v = c.tick.value;
            if (isBoundary(v)) return 'rgba(0,0,0,0)';
            return Math.abs(localVal(v) * 2) % 1 === 0 ? '#8f8f8f' : 'rgba(0,0,0,0)';
          },
          lineWidth: 1
        },
        ticks: {
          stepSize: 0.25, autoSkip: false, padding: 39, color: '#333',
          font: { family: FONT, size: 20 },
          callback: function (v) {
            if (isBoundary(v)) return '';
            var l = localVal(v);
            if (l === 0.5) return '0.5';
            if (l === 0) return '0';
            if (l === -0.5) return '-0.5';
            return '';
          }
        },
        title: {
          display: true, text: 'Difference from NOAA (ppm)', color: '#111',
          font: { family: FONT, size: 23 }, padding: { top: 9, bottom: 0 }
        }
      }
    }
  },
  plugins: [framePlugin]
});
</script>
</body>
</html>
